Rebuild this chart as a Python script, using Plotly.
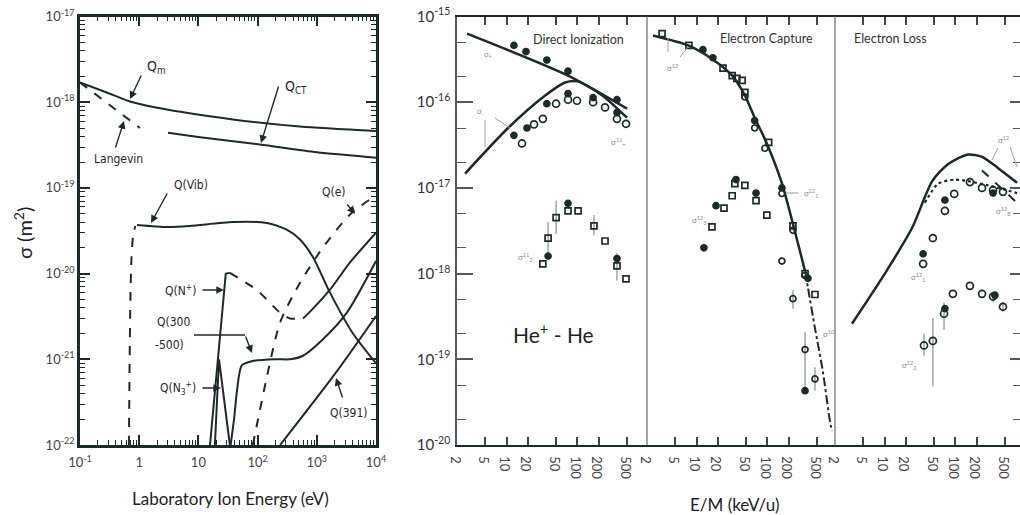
import numpy as np
import plotly.graph_objects as go

W, H = 1020, 515

INK = "#1d2a2a"
GREY = "#8a8f8f"
FONT = "Lato, 'Open Sans', sans-serif"
LBL = "'DejaVu Sans Condensed', 'Liberation Sans Narrow', 'Liberation Sans', sans-serif"

# ---------------- left panel: N2+ - N2 cross sections (eV, m^2) ----------------
qm_e = [0.1, 0.29, 0.7, 2.95, 38, 520, 1e4]
qm_s = [1.7e-18, 1.29e-18, 1.02e-18, 8.2e-19, 6.3e-19, 5.2e-19, 4.6e-19]

lang_e = [0.1, 1.03]
lang_s = [1.7e-18, 5.0e-19]

qct_e = [3.06, 10.7, 110, 1000, 1e4]
qct_s = [4.4e-19, 3.9e-19, 3.2e-19, 2.6e-19, 2.25e-19]

qvib_lo_e = [0.67, 0.69, 0.71, 0.74, 0.79, 0.86]
qvib_lo_s = [1e-22, 1e-21, 5e-21, 1.5e-20, 2.8e-20, 3.6e-20]
qvib_e = [0.92, 3.0, 7.2, 38, 144, 300, 520, 863, 1670, 4080, 1e4]
qvib_s = [3.7e-20, 3.5e-20, 3.6e-20, 4.0e-20, 3.9e-20, 3.3e-20, 2.5e-20,
          1.55e-20, 6.0e-21, 2.0e-21, 9.0e-22]

qe_e = [83, 144, 240, 520, 1260, 3640, 1e4]
qe_s = [1e-22, 6.3e-22, 2.7e-21, 7.8e-21, 2.0e-20, 4.9e-20, 8.2e-20]

qnp_rise_e = [15.7, 29, 34]
qnp_rise_s = [1e-22, 1.0e-20, 1.02e-20]
qnp_mid_e = [34, 98, 239, 352, 585]
qnp_mid_s = [1.02e-20, 6.4e-21, 3.5e-21, 3.0e-21, 3.0e-21]
qnp_hi_e = [585, 680, 1670, 3640, 1e4]
qnp_hi_s = [3.0e-21, 3.3e-21, 6.5e-21, 1.35e-20, 3.0e-20]

q300_e = [35, 40, 45, 54, 80, 200, 352, 585, 1260, 3220, 1e4]
q300_s = [1e-22, 2.0e-22, 4.4e-22, 8.5e-22, 9.5e-22, 1.0e-21, 1.0e-21,
          1.1e-21, 1.7e-21, 3.5e-21, 1.4e-20]

qn3_e = [19, 22.3, 34]
qn3_s = [1e-22, 1e-21, 1e-22]

q391_e = [240, 2040, 1e4]
q391_s = [1e-22, 6.8e-22, 3.2e-21]

left_xticks = [0.1, 1, 10, 100, 1000, 1e4]
left_xtext = ["10<sup>-1</sup>", "1", "10", "10<sup>2</sup>", "10<sup>3</sup>", "10<sup>4</sup>"]
left_yticks = [1e-22, 1e-21, 1e-20, 1e-19, 1e-18, 1e-17]
left_ytext = ["10<sup>-22</sup>", "10<sup>-21</sup>", "10<sup>-20</sup>",
              "10<sup>-19</sup>", "10<sup>-18</sup>", "10<sup>-17</sup>"]

# ---------------- right panel: He+ - He ----------------
# Direct ionization
di_a_e = [2.77, 73.6, 500]
di_a_s = [6.3e-16, 2.04e-16, 8.4e-17]
di_b_e = [2.6, 10.5, 34.7, 67, 100, 224, 500]
di_b_s = [1.47e-17, 5.0e-17, 1.19e-16, 1.7e-16, 1.75e-16, 1.2e-16, 6.6e-17]
di_top_e = [12.7, 18.8, 37, 73.6, 361]
di_top_s = [4.6e-16, 3.9e-16, 3.1e-16, 2.3e-16, 1.07e-16]
di_mid_open_e = [16.5, 24.4, 32.5, 50, 73.6, 98.6, 166, 245, 361, 484]
di_mid_open_s = [3.3e-17, 5.5e-17, 6.4e-17, 9.6e-17, 1.07e-16, 1.04e-16,
                 1.0e-16, 8.7e-17, 6.4e-17, 5.6e-17]
di_mid_fill_e = [12.7, 19.4, 37, 73.6, 166, 361]
di_mid_fill_s = [4.1e-17, 5.0e-17, 9.6e-17, 1.26e-16, 1.13e-16, 7.6e-17]
di_low_open_e = [32.5, 38.5, 50, 73.6, 102, 171, 245, 361, 484]
di_low_open_s = [1.3e-18, 2.6e-18, 4.5e-18, 5.4e-18, 5.4e-18, 3.6e-18,
                 2.4e-18, 1.23e-18, 8.7e-19]
di_low_err_up = [0, 1.4e-18, 2.6e-18, 0, 0, 1.2e-18, 0, 0.5e-18, 0]
di_low_err_dn = [0, 1.0e-18, 1.6e-18, 0, 0, 0.8e-18, 0, 0.4e-18, 0]
di_low_fill_e = [38.5, 73.6, 361]
di_low_fill_s = [1.6e-18, 6.6e-18, 1.5e-18]

# Electron capture
ec_e = [2.43, 7.6, 16.5, 31.8, 48, 66, 98, 160, 229, 339]
ec_s = [6.0e-16, 4.6e-16, 3.2e-16, 2.04e-16, 1.2e-16, 6.6e-17, 3.3e-17,
        1.13e-17, 3.8e-18, 1.07e-18]
ec_ext_e = [339, 373, 468, 603, 760, 810]
ec_ext_s = [1.07e-18, 6.8e-19, 2.3e-19, 7.3e-20, 1.9e-20, 1.45e-20]
ec_sq_e = [3.26, 7.8, 23.6, 31.8, 37, 44, 48, 104, 229, 339]
ec_sq_s = [6.3e-16, 4.6e-16, 2.5e-16, 2.04e-16, 1.9e-16, 1.8e-16, 1.3e-16,
           3.4e-17, 3.6e-18, 1.0e-18]
ec_fill_e = [12.3, 17, 66, 160, 373]
ec_fill_s = [4.1e-16, 3.3e-16, 6.1e-17, 1.0e-17, 8.8e-19]
ec_circ_e = [48, 66, 92, 160, 229, 339]
ec_circ_s = [1.15e-16, 5.0e-17, 2.9e-17, 8.6e-18, 3.2e-18, 9.5e-19]
ec10_circ_e = [160, 229, 339, 468]
ec10_circ_s = [1.4e-18, 5.1e-19, 1.3e-19, 5.9e-20]
ec10_err_up = [0, 1.3e-19, 0.8e-19, 2.2e-20]
ec10_err_dn = [0, 1.2e-19, 0.86e-19, 1.6e-20]
ec10_sq_e = [468]
ec10_sq_s = [5.7e-19]
ec10_fill_e = [339]
ec10_fill_s = [4.3e-20]
ec3_sq_e = [16.5, 24.4, 31.8, 34.7, 48, 69, 98]
ec3_sq_s = [3.5e-18, 5.8e-18, 8.1e-18, 1.12e-17, 1.07e-17, 7.1e-18, 4.8e-18]
ec3_fill_e = [12.7, 18.8, 36, 69]
ec3_fill_s = [2.0e-18, 6.2e-18, 1.25e-17, 8.7e-18]

# Electron loss
el_e = [3.47, 10.1, 24.4, 47, 79, 150, 237, 400, 740]
el_s = [2.6e-19, 1.0e-18, 3.4e-18, 1.2e-17, 1.9e-17, 2.45e-17, 2.3e-17,
        1.7e-17, 1.15e-17]
el_dot_e = [37, 57, 98.6, 150, 290, 740]
el_dot_s = [6.7e-18, 1.12e-17, 1.25e-17, 1.2e-17, 1.07e-17, 8.7e-18]
el_dash_e = [237, 740]
el_dash_s = [1.6e-17, 6.7e-18]
el1_circ_e = [35, 48, 71, 96, 160, 237, 339, 468]
el1_circ_s = [1.3e-18, 2.6e-18, 5.4e-18, 8.5e-18, 1.17e-17, 1.0e-17,
              9.4e-18, 9.0e-18]
el1_fill_e = [35, 71, 339]
el1_fill_s = [1.7e-18, 7.2e-18, 8.7e-18]
el2_circ_e = [36, 48, 69, 92, 160, 237, 339, 468]
el2_circ_s = [1.45e-19, 1.64e-19, 3.4e-19, 5.8e-19, 7.2e-19, 5.8e-19,
              5.4e-19, 4.1e-19]
el2_err_up = [0.55e-19, 1.4e-19, 1.2e-19, 0, 0, 0, 0.8e-19, 0.6e-19]
el2_err_dn = [0.35e-19, 1.16e-19, 1.2e-19, 0, 0, 0, 0.8e-19, 0.5e-19]
el2_fill_e = [71, 360]
el2_fill_s = [3.9e-19, 5.6e-19]

right_xticks = [2, 5, 10, 20, 50, 100, 200, 500]
right_xtext = [str(v) for v in right_xticks]
right_yticks = [1e-20, 1e-19, 1e-18, 1e-17, 1e-16, 1e-15]
right_ytext = ["10<sup>-20</sup>", "10<sup>-19</sup>", "10<sup>-18</sup>",
               "10<sup>-17</sup>", "10<sup>-16</sup>", "10<sup>-15</sup>"]


def line(x, y, xa, ya, dash="solid", width=2.0, shape="spline"):
    return go.Scatter(x=x, y=y, xaxis=xa, yaxis=ya, mode="lines",
                      line=dict(color=INK, width=width, dash=dash, shape=shape,
                                smoothing=0.7),
                      hoverinfo="skip", showlegend=False)


def pts(x, y, xa, ya, sym, size=7, up=None, dn=None):
    tr = go.Scatter(x=x, y=y, xaxis=xa, yaxis=ya, mode="markers",
                    marker=dict(symbol=sym, size=size, color=INK,
                                line=dict(color=INK, width=1.7)),
                    hoverinfo="skip", showlegend=False)
    if up is not None:
        tr.error_y = dict(type="data", array=up, arrayminus=dn, color=GREY,
                          thickness=1.2, width=0)
    return tr


fig = go.Figure()

# left panel curves
fig.add_trace(line(qm_e, qm_s, "x", "y"))
fig.add_trace(line(lang_e, lang_s, "x", "y", dash="dash", shape="linear"))
fig.add_trace(line(qct_e, qct_s, "x", "y"))
fig.add_trace(line(qvib_lo_e, qvib_lo_s, "x", "y", dash="dash"))
fig.add_trace(line(qvib_e, qvib_s, "x", "y"))
fig.add_trace(line(qe_e, qe_s, "x", "y", dash="dash"))
fig.add_trace(line(qnp_rise_e, qnp_rise_s, "x", "y", shape="linear"))
fig.add_trace(line(qnp_mid_e, qnp_mid_s, "x", "y", dash="dash"))
fig.add_trace(line(qnp_hi_e, qnp_hi_s, "x", "y"))
fig.add_trace(line(q300_e, q300_s, "x", "y"))
fig.add_trace(line(qn3_e, qn3_s, "x", "y", shape="linear"))
fig.add_trace(line(q391_e, q391_s, "x", "y"))

# direct ionization
fig.add_trace(line(di_a_e, di_a_s, "x2", "y2", width=2.5))
fig.add_trace(line(di_b_e, di_b_s, "x2", "y2", width=2.5))
fig.add_trace(pts(di_top_e, di_top_s, "x2", "y2", "circle", 6))
fig.add_trace(pts(di_mid_open_e, di_mid_open_s, "x2", "y2", "circle-open", 7))
fig.add_trace(pts(di_mid_fill_e, di_mid_fill_s, "x2", "y2", "circle", 6))
fig.add_trace(pts(di_low_open_e, di_low_open_s, "x2", "y2", "square-open", 6,
                  di_low_err_up, di_low_err_dn))
fig.add_trace(pts(di_low_fill_e, di_low_fill_s, "x2", "y2", "circle", 6))

# electron capture
fig.add_trace(line(ec_e, ec_s, "x3", "y2", width=2.5))
fig.add_trace(line(ec_ext_e, ec_ext_s, "x3", "y2", dash="dashdot", width=2))
fig.add_trace(pts(ec_sq_e, ec_sq_s, "x3", "y2", "square-open", 6))
fig.add_trace(pts(ec_fill_e, ec_fill_s, "x3", "y2", "circle", 6))
fig.add_trace(pts(ec_circ_e, ec_circ_s, "x3", "y2", "circle-open", 6))
fig.add_trace(pts(ec10_circ_e, ec10_circ_s, "x3", "y2", "circle-open", 6,
                  ec10_err_up, ec10_err_dn))
fig.add_trace(pts(ec10_sq_e, ec10_sq_s, "x3", "y2", "square-open", 6))
fig.add_trace(pts(ec10_fill_e, ec10_fill_s, "x3", "y2", "circle", 6))
fig.add_trace(pts(ec3_sq_e, ec3_sq_s, "x3", "y2", "square-open", 6))
fig.add_trace(pts(ec3_fill_e, ec3_fill_s, "x3", "y2", "circle", 6))

# electron loss
fig.add_trace(line(el_e, el_s, "x4", "y2", width=2.5))
fig.add_trace(line(el_dot_e, el_dot_s, "x4", "y2", dash="dot", width=2.2))
fig.add_trace(line(el_dash_e, el_dash_s, "x4", "y2", dash="dash", width=2,
                   shape="linear"))
fig.add_trace(pts(el1_circ_e, el1_circ_s, "x4", "y2", "circle-open", 7))
fig.add_trace(pts(el1_fill_e, el1_fill_s, "x4", "y2", "circle", 6))
fig.add_trace(pts(el2_circ_e, el2_circ_s, "x4", "y2", "circle-open", 7,
                  el2_err_up, el2_err_dn))
fig.add_trace(pts(el2_fill_e, el2_fill_s, "x4", "y2", "circle", 6))

# empty trace so the right-hand frame axis is drawn
fig.add_trace(go.Scatter(x=[None], y=[None], xaxis="x4", yaxis="y3",
                         mode="lines", hoverinfo="skip", showlegend=False))


def decade_minors(lo, hi, mults):
    return [m * 10.0 ** d for d in range(lo, hi) for m in mults]


def fx(xp):
    return xp / W


def fy(yp):
    return 1 - yp / H


Y0, Y1 = fy(445), fy(16.5)

left_axis_common = dict(type="log", showgrid=False, zeroline=False,
                        showline=True, linewidth=2.5, linecolor=INK,
                        mirror="ticks", ticks="inside", ticklen=10,
                        tickwidth=1.6, tickcolor=INK, automargin=False,
                        tickfont=dict(family=FONT, size=13, color="#444"))

right_x_common = dict(type="log", showgrid=False, zeroline=False,
                      showline=True, linewidth=2.2, linecolor=INK,
                      mirror="ticks", ticks="inside", ticklen=8, tickwidth=1.5,
                      tickcolor="#444", anchor="y2", tickmode="array",
                      tickvals=right_xticks, ticktext=right_xtext,
                      automargin=False,
                      tickfont=dict(family=FONT, size=13, color="#444"))

lg2 = np.log10(2)
PXD = 70.9

fig.update_layout(
    width=W, height=H, autosize=False,
    margin=dict(l=0, r=0, t=0, b=0, autoexpand=False),
    paper_bgcolor="white", plot_bgcolor="rgba(0,0,0,0)",
    xaxis=dict(left_axis_common, range=[-1, 4], domain=[fx(80), fx(376)],
               anchor="y", tickmode="array", tickvals=left_xticks,
               ticktext=left_xtext, ticklabelstandoff=4,
               minor=dict(ticks="inside", ticklen=5, tickwidth=1.2,
                          tickcolor=INK, tickmode="array",
                          tickvals=decade_minors(-1, 4, range(2, 10)))),
    yaxis=dict(left_axis_common, range=[-22, -17], domain=[Y0, Y1],
               anchor="x", tickmode="array", tickvals=left_yticks,
               ticktext=left_ytext,
               minor=dict(ticks="inside", ticklen=5, tickwidth=1.2,
                          tickcolor=INK, tickmode="array",
                          tickvals=decade_minors(-22, -17, range(2, 10)))),
    xaxis2=dict(right_x_common, domain=[fx(457), fx(647)],
                range=[lg2, lg2 + 190 / PXD]),
    xaxis3=dict(right_x_common, domain=[fx(647), fx(835)],
                range=[lg2, lg2 + 188 / PXD]),
    xaxis4=dict(right_x_common, domain=[fx(835), 1.0],
                range=[lg2, lg2 + (W - 835) / PXD]),
    yaxis2=dict(type="log", range=[-20, -15], domain=[Y0, Y1], anchor="x2",
                showgrid=False, zeroline=False, showline=True, linewidth=1.5,
                linecolor="#556", ticks="inside", ticklen=16, tickwidth=1.5,
                tickcolor="#556", tickmode="array", tickvals=right_yticks,
                ticktext=right_ytext, ticklabelstandoff=2, automargin=False,
                tickfont=dict(family=FONT, size=15, color="#333"),
                minor=dict(ticks="inside", ticklen=9, tickwidth=1.3,
                           tickcolor="#556", tickmode="array",
                           tickvals=decade_minors(-20, -15, [2, 5]))),
    yaxis3=dict(type="log", range=[-20, -15], overlaying="y2", anchor="x4",
                side="right", showgrid=False, zeroline=False, showline=False,
                ticks="inside", ticklen=10, tickwidth=1.5, tickcolor="#556",
                showticklabels=False, tickmode="array", tickvals=right_yticks,
                automargin=False,
                minor=dict(ticks="inside", ticklen=7, tickwidth=1.3,
                           tickcolor="#556", tickmode="array",
                           tickvals=decade_minors(-20, -15, [2, 5]))),
)

# panel separators on the right-hand figure
for xp in (647, 835):
    fig.add_shape(type="line", xref="paper", yref="paper", x0=fx(xp), x1=fx(xp),
                  y0=Y0, y1=Y1, line=dict(color="#6f7575", width=1.3))

# thin grey leader lines beside the small cross-section labels
for (xa, ya), (xb, yb) in [((495, 118), (510, 128)), ((485, 120), (485, 147)),
                           ((668, 52), (668, 38)), ((680, 57), (688, 47)),
                           ((786, 193), (798, 193)),
                           ((998, 148), (992, 160)), ((1010, 147), (1017, 167))]:
    fig.add_shape(type="line", xref="paper", yref="paper",
                  x0=fx(xa), x1=fx(xb), y0=fy(ya), y1=fy(yb),
                  line=dict(color="#9a9f9f", width=1))

ann = []


def text(xp, yp, s, size=13, family=FONT, color="#222", **kw):
    ann.append(dict(x=fx(xp), y=fy(yp), xref="paper", yref="paper", text=s,
                    showarrow=False, xanchor="center", yanchor="middle",
                    font=dict(family=family, size=size, color=color), **kw))


def arrow(tail, head):
    ann.append(dict(x=fx(head[0]), y=fy(head[1]), xref="paper", yref="paper",
                    text="", showarrow=True,
                    ax=tail[0] - head[0], ay=tail[1] - head[1],
                    arrowhead=2, arrowsize=1.1, arrowwidth=1.4, arrowcolor=INK))


# labels on the left panel
text(156, 67, "Q<sub>m</sub>", 14, LBL, INK)
text(296, 87, "Q<sub>CT</sub>", 14, LBL, INK)
text(118, 159, "Langevin", 12, LBL, INK)
text(191, 185, "Q(Vib)", 12, LBL, INK)
text(334, 192, "Q(e)", 12, LBL, INK)
text(180, 290, "Q(N<sup>+</sup>)", 12, LBL, INK)
text(173, 322, "Q(300", 12, LBL, INK)
text(169, 345, "-500)", 12, LBL, INK)
text(178, 388, "Q(N<sub>3</sub><sup>+</sup>)", 12, LBL, INK)
text(349, 413, "Q(391)", 12, LBL, INK)

arrow((142, 74), (130, 99))
arrow((279, 85), (261, 143))
arrow((115, 149), (124, 121))
arrow((168, 192), (151, 223))
arrow((346, 203), (355, 214))
arrow((201, 290), (224, 290))
arrow((245, 335), (252, 353))
arrow((201, 388), (221, 388))
arrow((343, 399), (336, 378))
fig.add_shape(type="line", xref="paper", yref="paper",
              x0=fx(194), x1=fx(245), y0=fy(335), y1=fy(335),
              line=dict(color=INK, width=1.4))

# titles
text(230, 498, "Laboratory Ion Energy (eV)", 17, FONT, "#222")
text(735, 504, "E/M (keV/u)", 17, FONT, "#222")
text(23, 233, "σ (m<sup>2</sup>)", 20, FONT, "#222", textangle=-90)
text(553, 333, "He<sup>+</sup> - He", 21, FONT, "#222")

# process headers
text(578, 40, "Direct Ionization", 12.5, FONT, "#333", bgcolor="white")
text(766, 38, "Electron Capture", 12.5, FONT, "#333", bgcolor="white")
text(890, 38, "Electron Loss", 12.5, FONT, "#333", bgcolor="white")

# small cross-section labels
for xp, yp, s in [(488, 55, "σ<sub>+</sub>"), (480, 112, "σ<sub>-</sub>"),
                  (618, 142, "σ<sup>11</sup><sub>+</sub>"),
                  (525, 257, "σ<sup>11</sup><sub>2</sub>"),
                  (672, 68, "σ<sup>12</sup>"),
                  (811, 193, "σ<sup>12</sup><sub>1</sub>"),
                  (699, 220, "σ<sup>12</sup><sub>3</sub>"),
                  (829, 333, "σ<sup>10</sup>"),
                  (1003, 139, "σ<sup>12</sup>"),
                  (918, 277, "σ<sup>12</sup><sub>1</sub>"),
                  (909, 365, "σ<sup>12</sup><sub>2</sub>"),
                  (1003, 211, "σ<sup>12</sup><sub>8</sub>")]:
    text(xp, yp, s, 8, FONT, GREY)

fig.update_layout(annotations=ann)

fig.write_html("out.html")
